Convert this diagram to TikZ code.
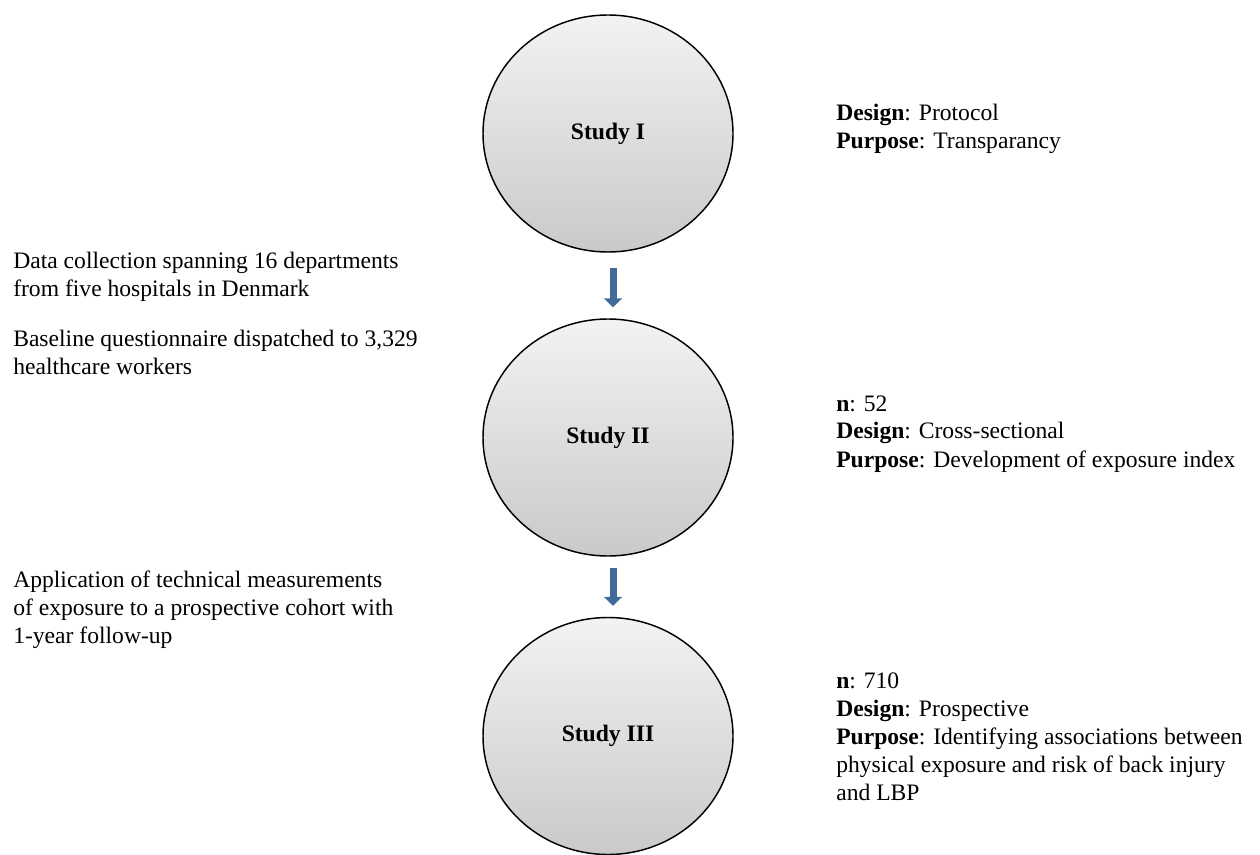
\documentclass[tikz,border=0pt]{standalone}
\usepackage{fontspec}
\setmainfont{Liberation Serif}
\usetikzlibrary{arrows.meta,shapes.geometric}
\definecolor{flowblue}{RGB}{65,106,155}
\tikzset{
  study/.style={ellipse, draw=black, line width=1.1pt, top color=gray!10, bottom color=gray!42,
    minimum width=187.5pt, minimum height=177.75pt, inner sep=0pt,
    font=\fontsize{17.7}{21}\selectfont\bfseries},
  note/.style={anchor=base west, align=left, inner sep=0pt,
    font=\fontsize{17.7}{21}\selectfont},
  flow/.style={draw=flowblue, line width=5.25pt, -{Triangle[width=13.5pt,length=6.75pt]}}
}

\begin{document}
\begin{tikzpicture}[x=0.75pt, y=-0.75pt]
			%%%%% START %%%%%
			\useasboundingbox (0, 0) rectangle (1260, 855);
			
			\node[study] (s1) at (608, 133.5) {Study I};
			\node[study] (s2) at (608, 437.5) {Study II};
			\node[study] (s3) at (608, 736) {Study III};
			
			\draw[flow, shorten <=11.25pt, shorten >=8.25pt] ([xshift=3.75pt]s1.south) -- ([xshift=3.75pt]s2.north);
			\draw[flow, shorten <=8.25pt, shorten >=8.25pt] ([xshift=3.75pt]s2.south) -- ([xshift=3.75pt]s3.north);
			
			% left side (anchored at the last line)
			\node[note] (sites) at (13, 297) {Data collection spanning 16 departments\\from five hospitals in Denmark};
			\node[note] (quest) at (13, 375) {Baseline questionnaire dispatched to 3,329\\healthcare workers};
			\node[note] (tech) at (13, 643.5) {Application of technical measurements\\of exposure to a prospective cohort with\\1-year follow-up};
			
			% right side
			\node[note] (d1) at (836, 148.5) {\textbf{Design}: Protocol\\\textbf{Purpose}: Transparancy};
			\node[note] (d2) at (836, 467) {\textbf{n}: 52\\\textbf{Design}: Cross-sectional\\\textbf{Purpose}: Development of exposure index};
			\node[note] (d3) at (836, 800) {\textbf{n}: 710\\\textbf{Design}: Prospective\\\textbf{Purpose}: Identifying associations between\\physical exposure and risk of back injury\\and LBP};
			%%%%% END %%%%%
\end{tikzpicture}
\end{document}
